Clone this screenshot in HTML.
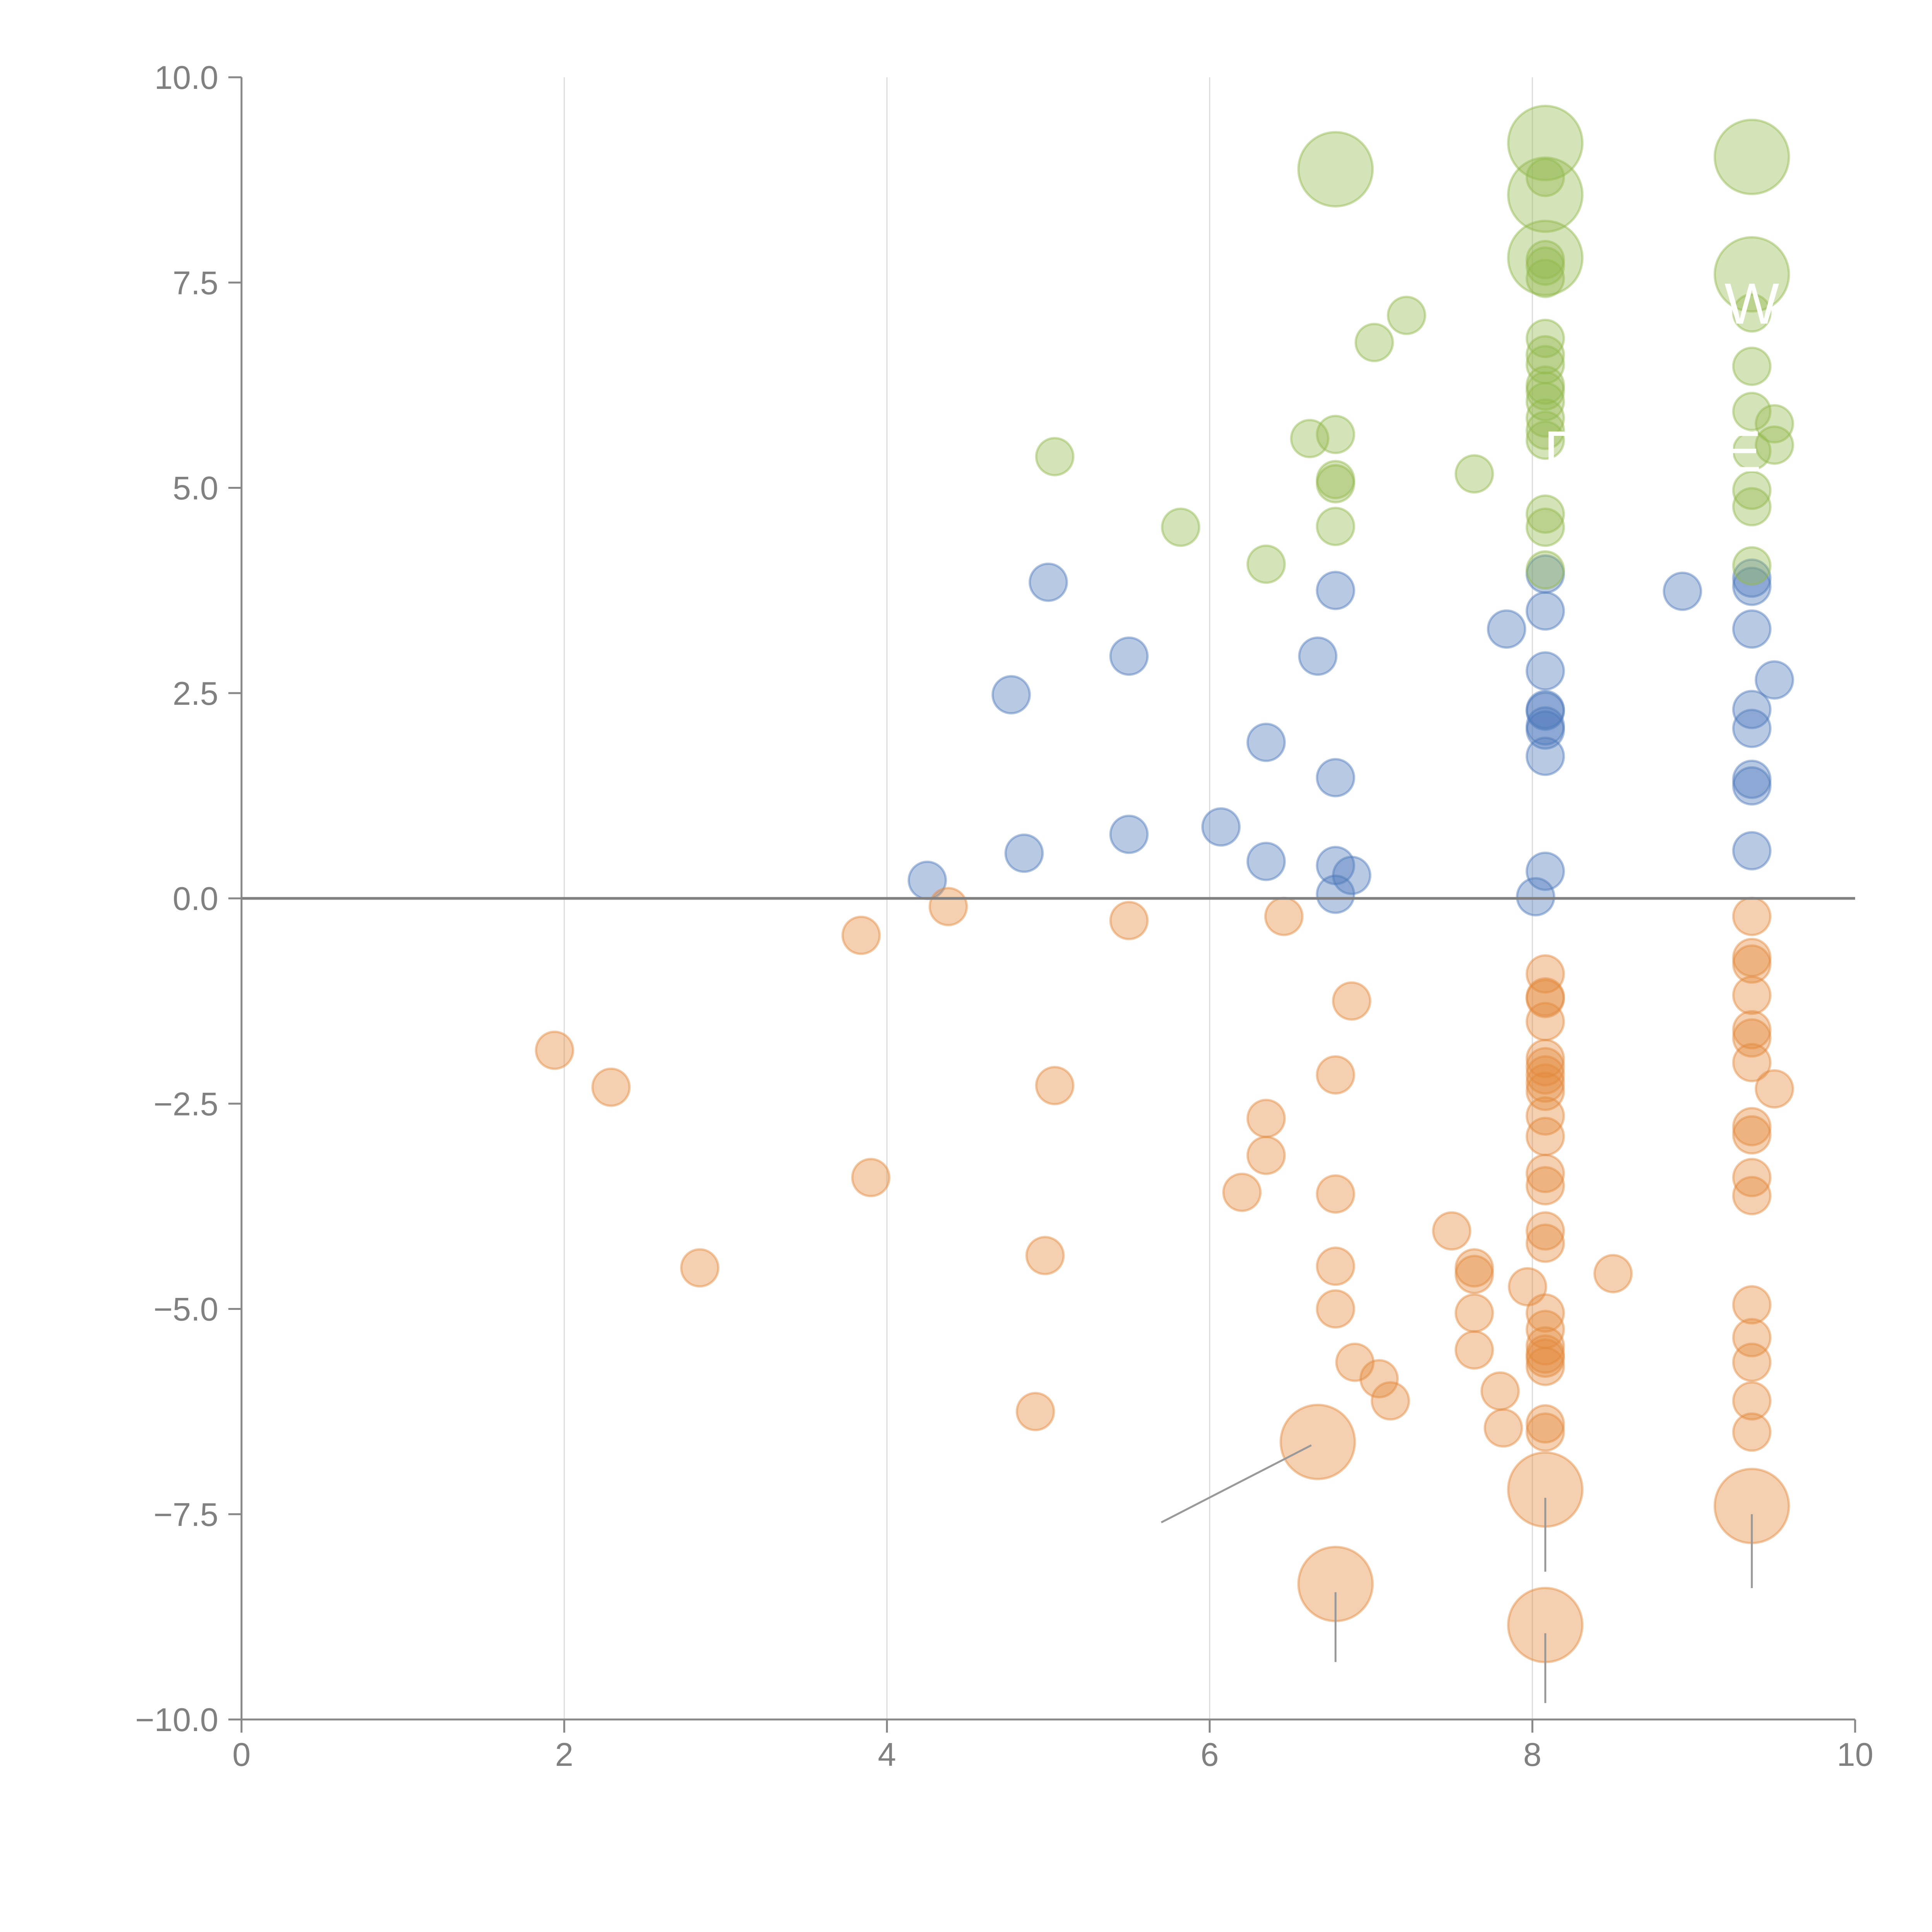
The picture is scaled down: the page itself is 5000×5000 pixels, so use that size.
<!DOCTYPE html>
<html><head><meta charset="utf-8"><style>html,body{margin:0;padding:0;background:#fff}svg{display:block}text{font-family:"Liberation Sans",sans-serif}</style></head>
<body>
<svg id="chart" width="5000" height="5000" viewBox="0 0 5000 5000" xmlns="http://www.w3.org/2000/svg">
<g id="grid"></g>
<g id="marks"></g>
<g id="axes"></g>
</svg>
<script>
const xTicks=[0,2,4,6,8,10];
const yTicks=[-10,-7.5,-5,-2.5,0,2.5,5,7.5,10];
const yTickLabels=["\u221210.0","\u22127.5","\u22125.0","\u22122.5","0.0","2.5","5.0","7.5","10.0"];
const blueX=[4.25,4.85,5.0,4.77,5.5,5.5,6.07,6.35,6.35,6.67,6.78,6.78,6.78,6.78,6.88,7.84,8.02,8.08,8.08,8.08,8.08,8.08,8.08,8.08,8.08,8.08,8.93,9.36,9.36,9.36,9.36,9.36,9.36,9.36,9.36,9.5];
const blueY=[0.22,0.55,3.85,2.48,2.95,0.78,0.87,1.9,0.45,2.95,3.75,1.47,0.4,0.05,0.28,3.28,0.02,0.33,1.73,2.05,2.1,2.28,2.3,2.77,3.5,3.95,3.74,3.28,3.8,3.9,2.3,2.07,1.45,1.37,0.58,2.66];
const orangeX=[1.94,2.29,2.84,3.84,3.9,4.38,4.92,4.98,5.04,5.5,6.2,6.35,6.35,6.46,6.78,6.78,6.78,6.78,6.88,6.9,7.05,7.12,7.5,7.64,7.64,7.64,7.64,7.8,7.82,7.97,8.5,
8.08,8.08,8.08,8.08,8.08,8.08,8.08,8.08,8.08,8.08,8.08,8.08,8.08,8.08,8.08,8.08,8.08,8.08,8.08,8.08,8.08,8.08,8.08,
9.36,9.36,9.36,9.36,9.36,9.36,9.36,9.36,9.36,9.36,9.36,9.36,9.36,9.36,9.36,9.36,9.5];
const orangeY=[-1.85,-2.3,-4.5,-0.45,-3.4,-0.1,-6.25,-4.35,-2.28,-0.27,-3.58,-2.68,-3.13,-0.22,-2.15,-3.6,-4.48,-5.0,-1.25,-5.65,-5.85,-6.12,-4.05,-4.5,-4.58,-5.05,-5.5,-6.0,-6.45,-4.73,-4.57,
-0.92,-1.2,-1.22,-1.5,-1.95,-2.05,-2.15,-2.25,-2.35,-2.65,-2.9,-3.35,-3.5,-4.05,-4.2,-5.05,-5.25,-5.45,-5.55,-5.6,-5.7,-6.4,-6.5,
-0.22,-0.72,-0.8,-1.18,-1.6,-1.7,-2.0,-2.78,-2.88,-3.4,-3.62,-4.95,-5.35,-5.65,-6.12,-6.5,-2.32];
const orangeBigX=[6.67,6.78,8.08,8.08,9.36];
const orangeBigY=[-6.62,-8.35,-7.2,-8.85,-7.4];
const greenX=[5.04,5.82,6.35,6.62,6.78,6.78,6.78,6.78,7.02,7.22,7.64,
8.08,8.08,8.08,8.08,8.08,8.08,8.08,8.08,8.08,8.08,8.08,8.08,8.08,8.08,8.08,8.08,
9.36,9.36,9.36,9.36,9.36,9.36,9.36,9.5,9.5];
const greenY=[5.38,4.52,4.07,5.6,5.65,5.1,5.05,4.53,6.77,7.1,5.17,
4.0,4.52,4.68,5.58,5.7,5.85,6.05,6.18,6.25,6.5,6.62,6.82,7.55,7.7,7.78,8.78,
4.05,4.77,4.97,5.45,5.93,6.48,7.13,5.78,5.52];
const greenBigX=[6.78,8.08,8.08,8.08,9.36,9.36];
const greenBigY=[8.88,9.2,8.57,7.8,9.03,7.6];

const NS="http://www.w3.org/2000/svg";
const X0=625,X1=4801,Y0=4450,Y1=200;
function sx(v){return X0+(v-0)/(10-0)*(X1-X0);}
function sy(v){return Y0-(v+10)/20*(Y0-Y1);}
function mk(tag,attrs,parent){const e=document.createElementNS(NS,tag);for(const k in attrs)e.setAttribute(k,attrs[k]);parent.appendChild(e);return e;}
const grid=document.getElementById('grid'),marks=document.getElementById('marks'),axes=document.getElementById('axes');

xTicks.forEach(t=>{if(t===0||t===10)return;
 const l=mk('line',{x1:sx(t),x2:sx(t),y1:Y1,y2:Y0,stroke:'#dcdcdc','stroke-width':3},grid);
 
 
});

function dots(xs,ys,r,fill,stroke,name){
 xs.forEach((x,i)=>{
  const c=mk('circle',{cx:sx(x),cy:sy(ys[i]),r:r,fill:fill,'fill-opacity':0.4,stroke:stroke,'stroke-opacity':0.45,'stroke-width':6},marks);
  
  
 });
}
dots(blueX,blueY,48,'#4e79bb','#4e79bb','blue-point');
dots(orangeX,orangeY,48,'#e38a3d','#e38a3d','orange-point');
dots(greenX,greenY,48,'#93b84d','#93b84d','green-point');
dots(orangeBigX,orangeBigY,96,'#e38a3d','#e38a3d','orange-large-point');
dots(greenBigX,greenBigY,96,'#93b84d','#93b84d','green-large-point');

// leader lines for large orange bubbles
const leadFrom=[[6.63,-6.66],[6.78,-8.45],[8.08,-7.3],[8.08,-8.95],[9.36,-7.5]];
const leadTo=[[5.7,-7.6],[6.78,-9.3],[8.08,-8.2],[8.08,-9.8],[9.36,-8.4]];
leadFrom.forEach((p,i)=>{
 const l=mk('line',{x1:sx(p[0]),y1:sy(p[1]),x2:sx(leadTo[i][0]),y2:sy(leadTo[i][1]),stroke:'#999','stroke-width':5},marks);
 
 
});
// white labels (mostly hidden)
const lbls=[["W",9.36,7.0],["E",9.3,5.2],["D",8.2,5.2]];
lbls.forEach(a=>{
 const t=mk('text',{x:sx(a[1]),y:sy(a[2]),fill:'#fff','font-size':150,'text-anchor':'middle'},marks);
 t.textContent=a[0];
 
 
});

// zero line
const z=mk('line',{x1:X0,x2:X1,y1:sy(0),y2:sy(0),stroke:'#808080','stroke-width':7},axes);


// axes
const ya=mk('line',{x1:X0,x2:X0,y1:Y1,y2:Y0,stroke:'#888','stroke-width':5},axes);


const xa=mk('line',{x1:X0,x2:X1,y1:Y0,y2:Y0,stroke:'#888','stroke-width':5},axes);


yTicks.forEach((t,i)=>{
 const l=mk('line',{x1:X0-34,x2:X0,y1:sy(t),y2:sy(t),stroke:'#888','stroke-width':5},axes);
 
 
 const tx=mk('text',{x:X0-60,y:sy(t)+30,fill:'#808080','font-size':85,'text-anchor':'end'},axes);
 tx.textContent=yTickLabels[i];
 
 
});
xTicks.forEach(t=>{
 const l=mk('line',{x1:sx(t),x2:sx(t),y1:Y0,y2:Y0+34,stroke:'#888','stroke-width':5},axes);
 
 
 const tx=mk('text',{x:sx(t),y:Y0+120,fill:'#808080','font-size':85,'text-anchor':'middle'},axes);
 tx.textContent=String(t);
 
 
});
</script>
</body></html>
